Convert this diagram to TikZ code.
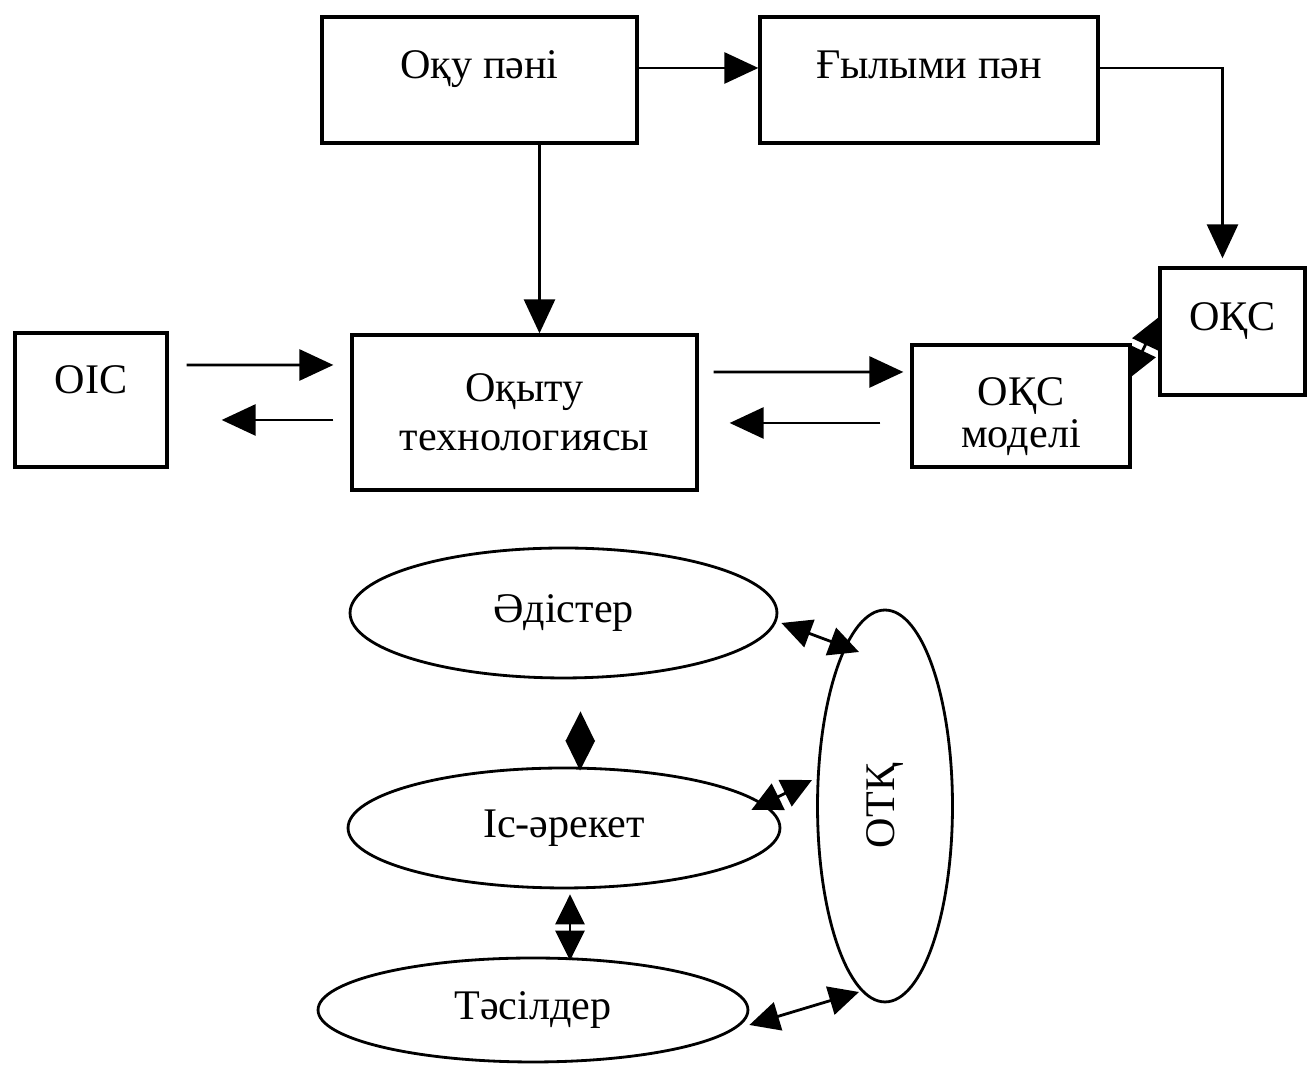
\documentclass[tikz,border=0pt]{standalone}
\usepackage{fontspec}
\setmainfont{Liberation Serif}
\usetikzlibrary{shapes.geometric,arrows.meta,calc}
\begin{document}
\begin{tikzpicture}[x=0.02cm,y=0.02cm,
  every node/.style={font=\fontsize{24}{30}\selectfont},
  box/.style={draw, line width=1.9pt, rectangle, inner sep=0pt, align=center},
  upper/.style={text height=0.6cm, text depth=0.64cm},
  oval/.style={draw, line width=1.6pt, ellipse, inner sep=0pt},
  arr/.style={line width=1.6pt, -{Triangle[length=0.68cm,width=0.62cm]}},
  dbl/.style={line width=1.6pt, {Triangle[length=0.6cm,width=0.58cm]}-{Triangle[length=0.6cm,width=0.58cm]}}]
\useasboundingbox (0,0) rectangle (1309,1070);

%Nodes
\node[box, upper, minimum width=6.3cm, minimum height=2.52cm] (nodeOku) at (479.5,990) {Оқу пәні};
\node[box, upper, minimum width=6.76cm, minimum height=2.52cm] (nodeGylym) at (929,990) {Ғылыми пән};

\node[box, upper, minimum width=2.9cm, minimum height=2.54cm] (nodeOKS) at (1232.5,738.5) {ОҚС};

\node[box, upper, text depth=0.84cm, minimum width=3.04cm, minimum height=2.68cm] (nodeOIS) at (91,670) {ОІС};
\node[box, minimum width=6.9cm, minimum height=3.1cm] (nodeTech) at (524.5,657.5) {Оқыту\\[-2pt] технологиясы};
\node[box, minimum width=4.36cm, minimum height=2.44cm] (nodeModel) at (1021,664) {\\[-2pt]ОҚС\\[-6pt] моделі};

\node[oval, minimum width=8.54cm, minimum height=2.6cm] (nodeEdis) at (563.5,457) {Әдістер};
\node[oval, minimum width=8.64cm, minimum height=2.4cm] (nodeIs) at (564,242) {Іс-әрекет};
\node[oval, minimum width=8.6cm, minimum height=2.08cm] (nodeTas) at (533,60) {Тәсілдер};

\node[oval, rotate=90, minimum width=7.84cm, minimum height=2.7cm] (nodeOTK) at (885,264) {ОТҚ};

%Lines
\draw[arr] ($(nodeOku.east)+(0,12)$) -- ($(nodeGylym.west)+(0,12)$);
\draw[arr] ($(nodeGylym.east)+(0,12)$) -| ($(nodeOKS.north)+(-10,8)$);
\draw[arr] ($(nodeOku.south)+(60,0)$) -- ($(nodeTech.north)+(15,0)$);

\draw[arr] ($(nodeOIS.east)+(18,35)$) -- ($(nodeTech.west)+(-17,47.5)$);
\draw[arr] ($(nodeTech.west)+(-17,-7.5)$) -- ($(nodeOIS.east)+(53,-20)$);

\draw[arr] ($(nodeTech.east)+(15,40.5)$) -- ($(nodeModel.west)+(-7,34)$);
\draw[arr] ($(nodeModel.west)+(-30,-17)$) -- ($(nodeTech.east)+(31,-10.5)$);

\draw[dbl] ($(nodeModel.east)+(-2,28)$) -- ($(nodeOKS.west)+(0,14)$);

\draw[dbl] ($(nodeEdis.south)+(17,-32)$) -- ($(nodeIs.north)+(16,-4)$);
\draw[dbl] ($(nodeIs.south)+(6,-5)$) -- ($(nodeTas.north)+(37,-4)$);

\draw[dbl] ($(nodeEdis.east)+(3,-10)$) -- ($(nodeOTK.center)+(-26,154)$);
\draw[dbl] ($(nodeIs.east)+(-30,18)$) -- ($(nodeOTK.center)+(-73,26)$);
\draw[dbl] ($(nodeTas.east)+(0,-15)$) -- ($(nodeOTK.center)+(-26,-186)$);
\end{tikzpicture}
\end{document}
